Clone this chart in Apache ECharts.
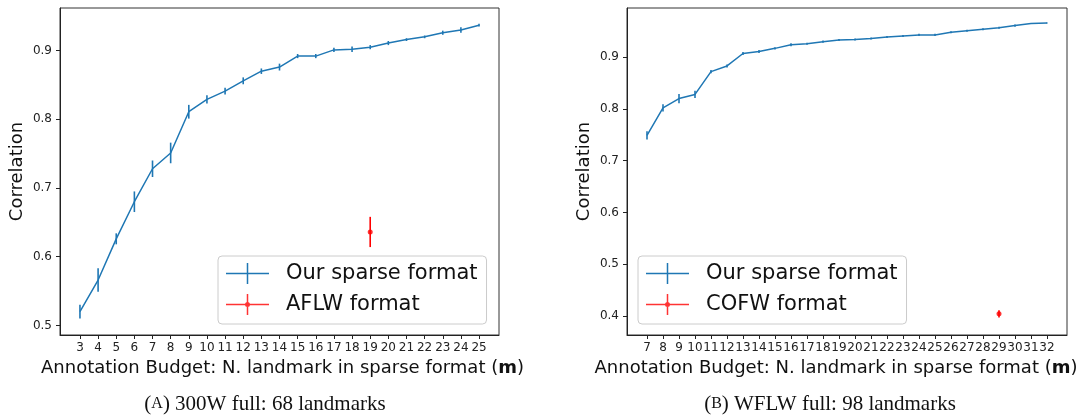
<!DOCTYPE html>
<html>
<head>
<meta charset="utf-8">
<script src="https://cdn.jsdelivr.net/npm/echarts@6/dist/echarts.min.js"></script>
<style>
html,body{margin:0;padding:0;background:#fff;}
#chart{width:1085px;height:417px;}
</style>
</head>
<body>
<div id="chart"></div>
<script>
// ---- data: left panel (300W full: 68 landmarks)
var leftM = [3,4,5,6,7,8,9,10,11,12,13,14,15,16,17,18,19,20,21,22,23,24,25];
var leftVal = [0.520,0.566,0.626,0.680,0.728,0.751,0.811,0.829,0.841,0.856,0.870,0.876,0.892,0.892,0.901,0.902,0.905,0.911,0.916,0.920,0.926,0.930,0.937];
var leftErr = [0.010,0.017,0.008,0.015,0.012,0.015,0.010,0.006,0.005,0.005,0.004,0.005,0.003,0.003,0.003,0.004,0.003,0.003,0.002,0.002,0.003,0.004,0.002];
var leftRefM = [19];
var leftRefVal = [0.636];
var leftRefErr = [0.022];
var leftYTicks = [0.5,0.6,0.7,0.8,0.9];

// ---- data: right panel (WFLW full: 98 landmarks)
var rightM = [7,8,9,10,11,12,13,14,15,16,17,18,19,20,21,22,23,24,25,26,27,28,29,30,31,32];
var rightVal = [0.749,0.802,0.820,0.828,0.872,0.883,0.907,0.911,0.917,0.924,0.926,0.930,0.933,0.934,0.936,0.939,0.941,0.943,0.943,0.948,0.951,0.954,0.957,0.961,0.965,0.966];
var rightErr = [0.008,0.007,0.009,0.007,0.003,0.003,0.003,0.003,0.002,0.003,0.002,0.002,0.002,0.002,0.002,0.002,0.002,0.002,0.002,0.002,0.002,0.002,0.002,0.002,0.001,0.001];
var rightRefM = [29];
var rightRefVal = [0.404];
var rightRefErr = [0.007];
var rightYTicks = [0.4,0.5,0.6,0.7,0.8,0.9];

var seriesNames = ['Our sparse format', 'AFLW format', 'COFW format'];
var xTitle = 'Annotation Budget: N. landmark in sparse format ({b|m})';
var yTitle = 'Correlation';
var captionA = '({sc|A}) 300W full: 68 landmarks';
var captionB = '({sc|B}) WFLW full: 98 landmarks';

var BLUE = '#1f77b4', RED = '#ff0000';
var FONT = 'DejaVu Sans';

function zip(xs, ys){ return xs.map(function(x,i){ return [x, ys[i]]; }); }
function errData(xs, ys, es){ return xs.map(function(x,i){ return [x, ys[i], es[i]]; }); }
function errRender(color){
  return function(params, api){
    var x = api.value(0), y = api.value(1), e = api.value(2);
    var p1 = api.coord([x, y - e]);
    var p2 = api.coord([x, y + e]);
    return {type:'line', shape:{x1:p1[0], y1:p1[1], x2:p2[0], y2:p2[1]},
            style:{stroke:color, lineWidth:1.6}};
  };
}
function range(a,b){ var r=[]; for(var i=a;i<=b;i++) r.push(i); return r; }

var iconPlain = 'path://M0,9.75H43V11.25H0Z M20.75,0H22.25V21H20.75Z';
var iconDot = 'path://M0,9.75H43V11.25H0Z M20.75,0H22.25V21H20.75Z M24,10.5A2.5,2.5,0,1,1,19,10.5A2.5,2.5,0,1,1,24,10.5Z';

function xAxisCfg(idx, min, max, ticks, namePad){
  return {
    type:'value', gridIndex: idx, min:min, max:max,
    splitLine:{show:false},
    axisLine:{show:true, onZero:false, lineStyle:{color:'#222', width:1}},
    axisTick:{show:true, length:4, customValues: ticks, lineStyle:{color:'#222'}},
    axisLabel:{customValues: ticks, color:'#222', fontFamily:FONT, fontSize:12, margin:7, hideOverlap:false},
    name: xTitle, nameLocation:'middle', nameGap:24,
    nameTextStyle:{color:'#111', fontFamily:FONT, fontSize:18, padding:namePad,
      rich:{b:{fontWeight:'bold', fontFamily:FONT, fontSize:18, color:'#111'}}}
  };
}
function yAxisCfg(idx, min, max, ticks){
  return {
    type:'value', gridIndex: idx, min:min, max:max,
    splitLine:{show:false},
    axisLine:{show:true, onZero:false, lineStyle:{color:'#222', width:1}},
    axisTick:{show:true, length:4, customValues: ticks, lineStyle:{color:'#222'}},
    axisLabel:{customValues: ticks, color:'#222', fontFamily:FONT, fontSize:12, margin:8,
      formatter:function(v){ return v.toFixed(1); }},
    name: yTitle, nameLocation:'middle', nameGap:34,
    nameTextStyle:{color:'#111', fontFamily:FONT, fontSize:18}
  };
}
function legendCfg(left, top, refName){
  return {
    orient:'vertical', left:left, top:top,
    data:[{name:seriesNames[0], icon:iconPlain},{name:refName, icon:iconDot}],
    itemWidth:43, itemHeight:21, itemGap:10,
    padding:[7,9,9,8],
    backgroundColor:'rgba(255,255,255,0.8)', borderColor:'#cccccc', borderWidth:1, borderRadius:4,
    selectedMode:false,
    textStyle:{fontFamily:FONT, fontSize:21, color:'#111', padding:[0,0,0,12]}
  };
}

var chart = echarts.init(document.getElementById('chart'), null, {renderer:'canvas'});
chart.setOption({
  animation:false,
  backgroundColor:'#fff',
  grid:[
    {left:60, top:8, width:439, height:327, show:true, borderColor:'#333', borderWidth:1,
     backgroundColor:'transparent', containLabel:false, outerBoundsMode:'none'},
    {left:627, top:8, width:440, height:327, show:true, borderColor:'#333', borderWidth:1,
     backgroundColor:'transparent', containLabel:false, outerBoundsMode:'none'}
  ],
  xAxis:[ xAxisCfg(0, 1.9, 26.1, range(3,25), [0,0,0,6]), xAxisCfg(1, 5.75, 33.25, range(7,32), [0,22,0,0]) ],
  yAxis:[ yAxisCfg(0, 0.486, 0.962, leftYTicks), yAxisCfg(1, 0.363, 0.995, rightYTicks) ],
  legend:[ legendCfg(218, 256, seriesNames[1]), legendCfg(638, 256, seriesNames[2]) ],
  series:[
    {name:seriesNames[0], type:'line', xAxisIndex:0, yAxisIndex:0, data:zip(leftM,leftVal),
     symbol:'none', color:BLUE, lineStyle:{color:BLUE, width:1.5}},
    {type:'custom', xAxisIndex:0, yAxisIndex:0, data:errData(leftM,leftVal,leftErr),
     renderItem:errRender(BLUE), silent:true},
    {name:seriesNames[1], type:'scatter', xAxisIndex:0, yAxisIndex:0, data:zip(leftRefM,leftRefVal),
     symbol:'circle', symbolSize:5, color:RED, itemStyle:{color:RED}},
    {type:'custom', xAxisIndex:0, yAxisIndex:0, data:errData(leftRefM,leftRefVal,leftRefErr),
     renderItem:errRender(RED), silent:true},

    {name:seriesNames[0], type:'line', xAxisIndex:1, yAxisIndex:1, data:zip(rightM,rightVal),
     symbol:'none', color:BLUE, lineStyle:{color:BLUE, width:1.5}},
    {type:'custom', xAxisIndex:1, yAxisIndex:1, data:errData(rightM,rightVal,rightErr),
     renderItem:errRender(BLUE), silent:true},
    {name:seriesNames[2], type:'scatter', xAxisIndex:1, yAxisIndex:1, data:zip(rightRefM,rightRefVal),
     symbol:'circle', symbolSize:5, color:RED, itemStyle:{color:RED}},
    {type:'custom', xAxisIndex:1, yAxisIndex:1, data:errData(rightRefM,rightRefVal,rightRefErr),
     renderItem:errRender(RED), silent:true}
  ],
  graphic:[
    {type:'text', silent:true, x:265, y:404,
     style:{text:captionA, fontFamily:'Liberation Serif', fontSize:21, fill:'#111',
       align:'center', verticalAlign:'middle',
       rich:{sc:{fontFamily:'Liberation Serif', fontSize:16, fill:'#111'}}}},
    {type:'text', silent:true, x:830, y:404,
     style:{text:captionB, fontFamily:'Liberation Serif', fontSize:21, fill:'#111',
       align:'center', verticalAlign:'middle',
       rich:{sc:{fontFamily:'Liberation Serif', fontSize:16, fill:'#111'}}}}
  ]
});
</script>
</body>
</html>
